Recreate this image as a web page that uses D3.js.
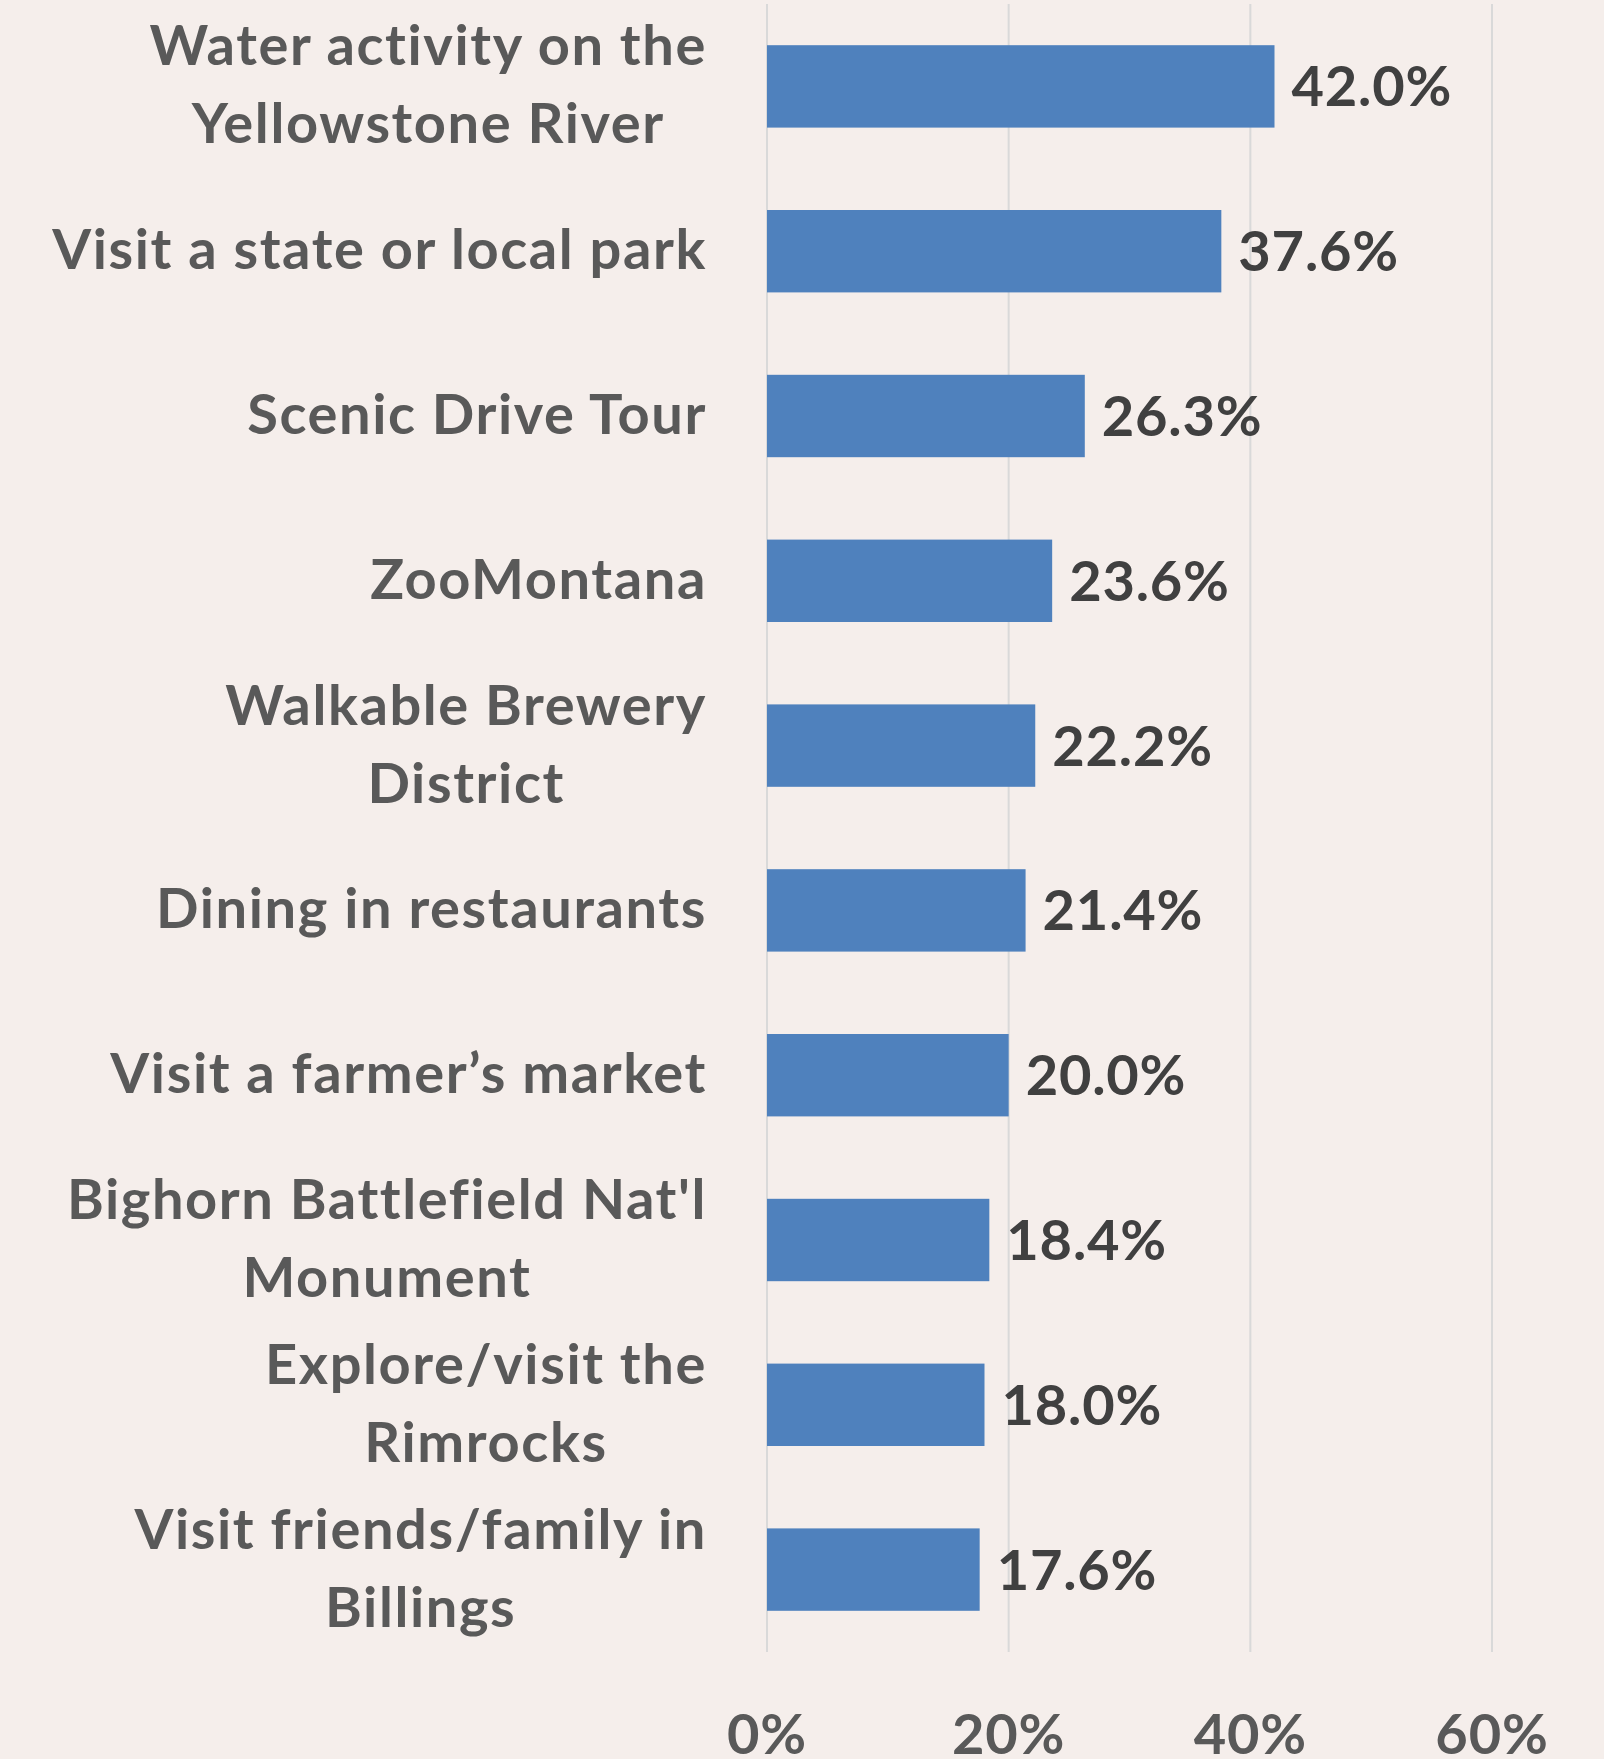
<!DOCTYPE html>
<html>
<head>
<meta charset="utf-8">
<script src="https://cdn.jsdelivr.net/npm/d3@7"></script>
<style>
  html, body { margin: 0; padding: 0; background: #f5eeeb; }
  svg { display: block; }
</style>
</head>
<body>
<div id="chart"></div>
<script>
// activity names, already split into the lines shown on the chart
const categories = [
    ["Water activity on the", "Yellowstone River"],
    ["Visit a state or local park"],
    ["Scenic Drive Tour"],
    ["ZooMontana"],
    ["Walkable Brewery", "District"],
    ["Dining in restaurants"],
    ["Visit a farmer\u2019s market"],
    ["Bighorn Battlefield Nat'l", "Monument"],
    ["Explore/visit the", "Rimrocks"],
    ["Visit friends/family in", "Billings"]
]
const values = [42.0, 37.6, 26.3, 23.6, 22.2, 21.4, 20.0, 18.4, 18.0, 17.6]
const xTicks = [0, 20, 40, 60]

const width = 1604,
    height = 1759
const margin = {top: 4, right: 112, bottom: 107, left: 767}
const labelRight = 707
const lineGap = 78
const font = "Lato, 'Open Sans', sans-serif"
const fontSize = 56

const svg = d3.select("#chart")
    .append("svg")
    .attr("width", width)
    .attr("height", height)

svg.append("rect")
    .attr("width", width)
    .attr("height", height)
    .attr("fill", "#f5eeeb")

const x = d3.scaleLinear()
    .domain([0, 60])
    .range([margin.left, width - margin.right])

const y = d3.scaleBand()
    .domain(d3.range(categories.length))
    .range([margin.top, height - margin.bottom])
    .paddingInner(0.5)
    .paddingOuter(0.25)

// vertical gridlines
svg.append("g")
    .selectAll("line")
    .data(xTicks)
    .join("line")
    .attr("x1", d => x(d))
    .attr("x2", d => x(d))
    .attr("y1", margin.top)
    .attr("y2", height - margin.bottom)
    .attr("stroke", "#d9d9d9")
    .attr("stroke-width", 2)

// bars
svg.append("g")
    .selectAll("rect")
    .data(values)
    .join("rect")
    .attr("x", x(0))
    .attr("y", (d, i) => y(i))
    .attr("width", d => x(d) - x(0))
    .attr("height", y.bandwidth())
    .attr("fill", "#4f81bd")

// value labels
svg.append("g")
    .selectAll("text")
    .data(values)
    .join("text")
    .attr("x", d => x(d) + 17)
    .attr("y", (d, i) => y(i) + y.bandwidth() / 2 + 20)
    .attr("font-family", font)
    .attr("font-weight", 700)
    .attr("font-size", fontSize)
    .attr("letter-spacing", 0.8)
    .attr("fill", "#404040")
    .text(d => d.toFixed(1) + "%")

// category labels: block is right aligned, lines centered inside it
const labels = svg.append("g")
    .selectAll("g")
    .data(categories)
    .join("g")

labels.each(function(lines, i) {
    const g = d3.select(this)
    const cy = y(i) + y.bandwidth() / 2
    const texts = g.selectAll("text")
        .data(lines)
        .join("text")
        .attr("font-family", font)
        .attr("font-weight", 700)
        .attr("font-size", fontSize)
        .attr("letter-spacing", 1.6)
        .attr("fill", "#595959")
        .attr("text-anchor", "middle")
        .attr("y", (d, j) => cy + 18 + (j - (lines.length - 1) / 2) * lineGap)
        .text(d => d)
    let maxW = 0
    texts.each(function() { maxW = Math.max(maxW, this.getComputedTextLength()) })
    texts.attr("x", labelRight - maxW / 2)
})

// x axis tick labels (cut by the bottom edge, as in the original)
svg.append("g")
    .selectAll("text")
    .data(xTicks)
    .join("text")
    .attr("x", d => x(d))
    .attr("y", 1754)
    .attr("text-anchor", "middle")
    .attr("font-family", font)
    .attr("font-weight", 700)
    .attr("font-size", fontSize)
    .attr("letter-spacing", 0.8)
    .attr("fill", "#595959")
    .text(d => d + "%")
</script>
</body>
</html>
